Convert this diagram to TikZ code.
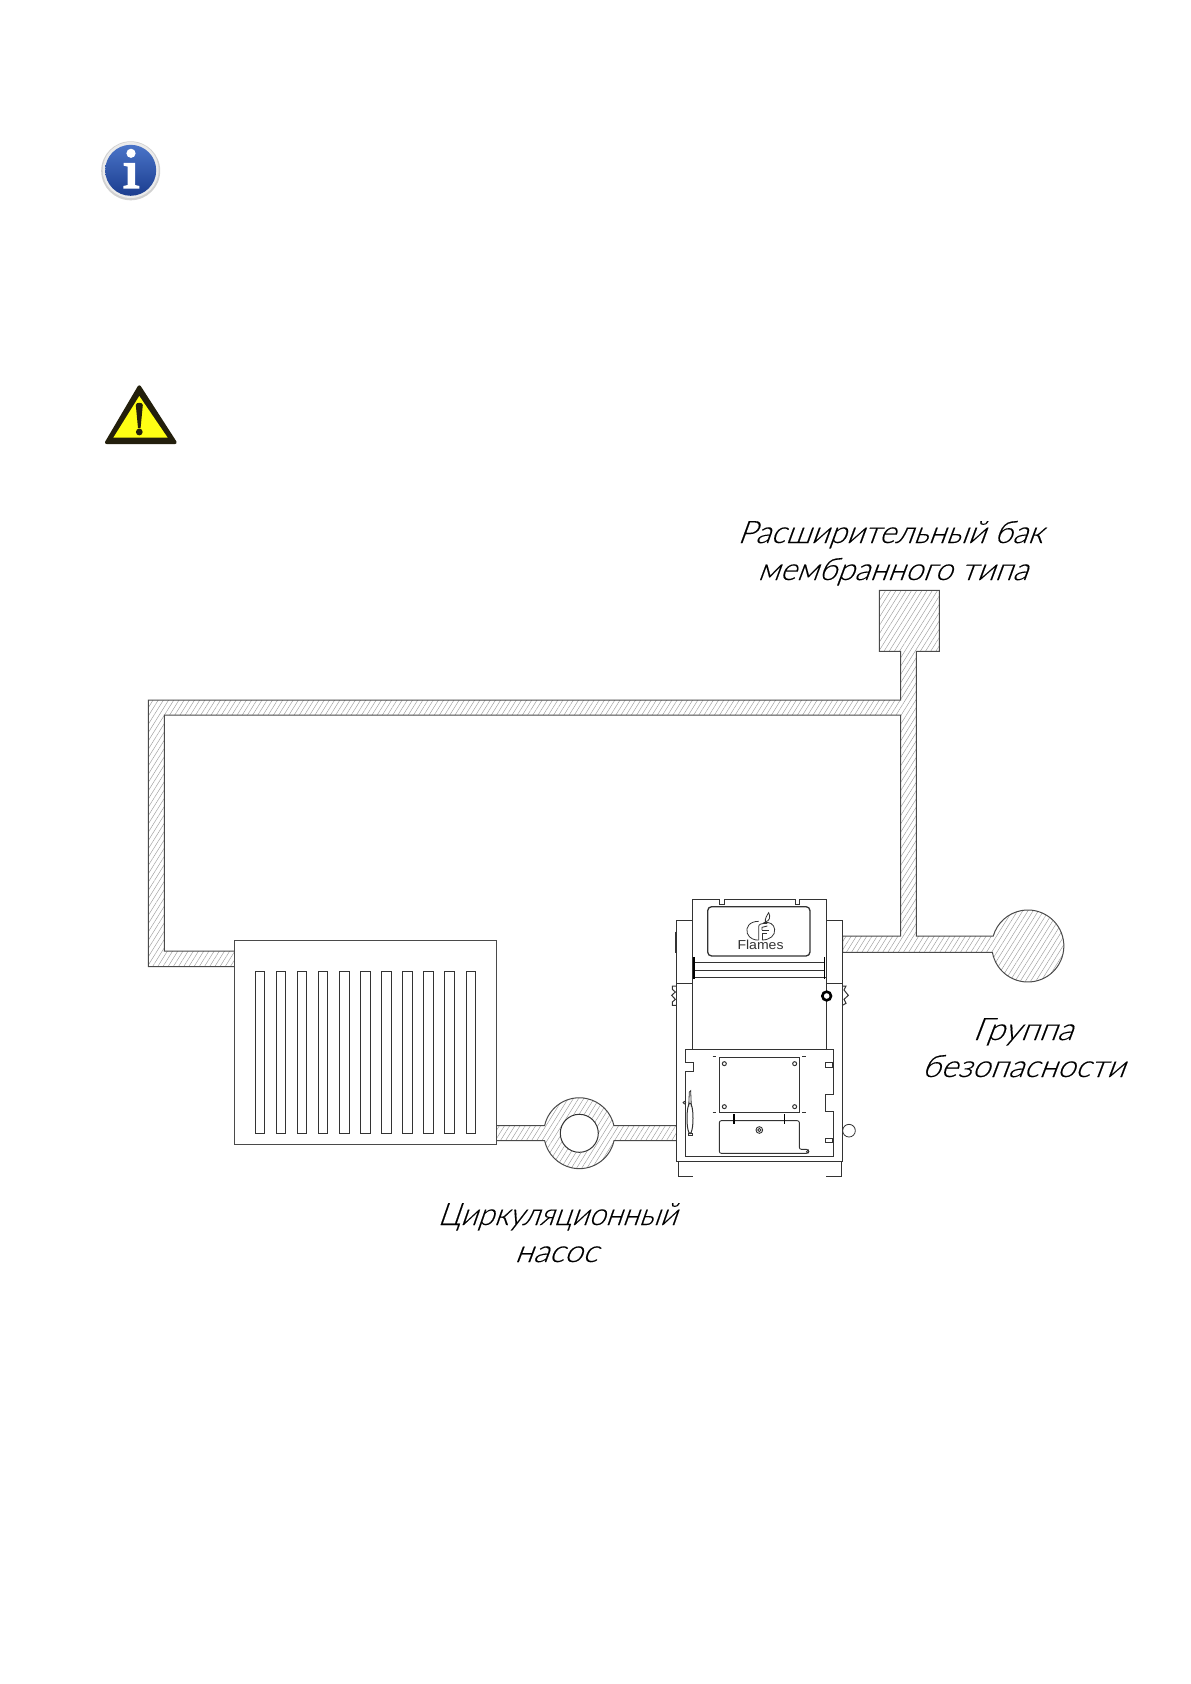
\documentclass[tikz,border=0pt]{standalone}
\usepackage{graphicx}
\usepackage{fontspec}
\usetikzlibrary{patterns.meta}
\newfontfamily\gostfont[FakeSlant=0.36,FakeBold=0.35]{Lato Light}
\newfontfamily\logofont{Liberation Sans}
\newcommand{\fitw}[2]{\resizebox{#1pt}{\height}{#2}}
\definecolor{pipeline}{HTML}{4A4A4A}
\definecolor{hatchc}{HTML}{9C9C9C}
\definecolor{inkc}{HTML}{333333}
\definecolor{infotop}{HTML}{4A74C8}
\definecolor{infobot}{HTML}{1B3D8F}
\definecolor{warnk}{HTML}{231F0C}
\definecolor{warny}{HTML}{FFFF14}
\tikzset{
  pipe/.style={draw=pipeline,line width=1pt,line join=miter,pattern={Lines[angle=58,distance=4.4pt,line width=0.45pt]},pattern color=hatchc},
  thinline/.style={draw=inkc,line width=0.8pt},
  boilerline/.style={draw=inkc,line width=0.9pt,fill=white},
  label/.style={anchor=base west,inner sep=0pt,outer sep=0pt,text=black,font=\gostfont\fontsize{31}{31}\selectfont},
  slot/.style={draw=inkc,line width=0.9pt,fill=white},
}
\begin{document}
\begin{tikzpicture}[x=1pt,y=-1pt]
\useasboundingbox[fill=white] (0,0) rectangle (1191,1684);

% info icon
\fill[black!18] (130.7,170.8) circle[radius=29.5];
\fill[white!92!black] (130.7,170) circle[radius=28];
\shade[top color=infotop,bottom color=infobot] (130.7,170.3) circle[radius=25.5];
\fill[white] (131,153.3) circle[radius=4.6];
\fill[white] (123.5,162.8) -- (135,162.8) -- (135,185) -- (139.4,186) -- (139.4,188.6) -- (123.3,188.6) -- (123.3,186) -- (127.7,185) -- (127.7,166.6) -- (123.5,165.6) -- cycle;

% warning icon
\fill[warnk,draw=warnk,line width=3.4pt,line join=round] (139.3,387) -- (175,442.4) -- (106.7,442.4) -- cycle;
\fill[warny] (139.3,396) -- (167.7,437.7) -- (113.3,437.7) -- cycle;
\fill[warnk] (135.8,405) .. controls (136,402) and (142.6,402) .. (142.8,405) -- (140.6,428) -- (138,428) -- cycle;
\fill[warnk] (139.3,432) circle[radius=3.4];

% upper pipe network with tank and safety group
\path[pipe] (236,951) -- (164.3,951) -- (164.3,715) -- (900.7,715) -- (900.7,936) -- (842.7,936) -- (842.7,952.3) -- (992.4,952.3)
  arc[start angle=169.9,end angle=-163.9,radius=36]
  -- (916.3,936) -- (916.3,651.3) -- (939.3,651.3) -- (939.3,590.3) -- (879.3,590.3) -- (879.3,651.3) -- (900.7,651.3) -- (900.7,700) -- (148.3,700) -- (148.3,966.7) -- (236,966.7) -- cycle;

% lower pipe with pump
\path[pipe] (495,1125.7) -- (544.6,1125.7) arc[start angle=-167.7,end angle=-12.3,radius=35.5] -- (678,1125.7) -- (678,1140.7) -- (614,1140.7) arc[start angle=12.3,end angle=167.7,radius=35.5] -- (495,1140.7) -- cycle;
\filldraw[fill=white,draw=inkc,line width=1pt] (579.3,1133.3) circle[radius=19];

% radiator
\draw[boilerline,draw=pipeline,line width=1.1pt] (234.7,940.7) rectangle (496.5,1144.3);
\foreach \k in {0,...,10}{
  \draw[slot] ({255.3+21.07*\k},971) rectangle ({264.7+21.07*\k},1133);
}

% boiler (drawn in 3x crop units)
\begin{scope}[shift={(660,880)},x=0.33333pt,y=-0.33333pt]
  % right round part behind side panel
  \draw[thinline,fill=white] (567,752) circle[radius=19];
  % side clamps
  \draw[thinline,line width=1pt,fill=white] (49,318) -- (37,318) -- (37,328) -- (46,336) -- (35,346) -- (46,358) -- (37,366) -- (37,376) -- (49,376);
  \draw[thinline,line width=1pt,fill=white] (547,318) -- (558,318) -- (552,330) -- (565,346) -- (552,358) -- (558,370) -- (547,376);
  % side housing
  \draw[boilerline] (49,122) -- (547,122) -- (547,845) -- (49,845) -- cycle;
  \draw[draw=inkc,line width=1pt] (45,155) -- (45,220);
  % feet
  \draw[draw=inkc,line width=1pt] (55,845) -- (55,888) -- (100,888);
  \draw[draw=inkc,line width=1pt] (545,845) -- (545,888) -- (497,888);
  % front body
  \draw[boilerline] (97,292) -- (97,58) -- (178,58) -- (178,72) -- (192,72) -- (192,58) -- (405,58) -- (405,72) -- (418,72) -- (418,58) -- (498,58) -- (498,292) -- cycle;
  \draw[draw=inkc,line width=0.9pt] (49,310) -- (97,310);
  \draw[draw=inkc,line width=0.9pt] (498,310) -- (547,310);
  \draw[draw=inkc,line width=0.9pt] (97,292) -- (97,507);
  \draw[draw=inkc,line width=0.9pt] (498,292) -- (498,507);
  % glass
  \draw[draw=inkc,line width=1.3pt,rounded corners=4pt] (143,80) rectangle (450,228);
  % hinge bars
  \draw[draw=inkc,line width=0.8pt] (104,248) -- (492,248);
  \draw[draw=inkc,line width=0.8pt] (104,272) -- (492,272);
  \draw[draw=black,line width=1.3pt] (102,232) -- (102,298);
  \draw[draw=black,line width=1.3pt] (494,232) -- (494,298);
  % logo
  \draw[draw=inkc,line width=0.8pt] (296,124) .. controls (268,124) and (256,142) .. (262,160) .. controls (268,176) and (284,181) .. (296,180);
  \draw[draw=inkc,line width=0.8pt] (306,180) .. controls (330,180) and (346,166) .. (344,148) .. controls (342,132) and (328,124) .. (310,128);
  \draw[draw=inkc,line width=0.8pt] (296,180) -- (296,140) .. controls (296,132) and (304,130) .. (322,130);
  \draw[draw=inkc,line width=0.8pt] (306,180) -- (306,160) -- (322,160);
  \draw[draw=inkc,line width=0.8pt] (306,150) -- (326,150);
  \draw[draw=inkc,line width=0.8pt] (306,150) -- (306,142) -- (322,138);
  \draw[draw=inkc,line width=0.8pt] (316,126) .. controls (314,116) and (322,104) .. (326,98) .. controls (332,110) and (330,122) .. (316,126) -- cycle;
  \node[anchor=base west,inner sep=0pt,font=\logofont\fontsize{13}{13}\selectfont,text=inkc] (flames) at (232,209) {\fitw{46}{Flames}};
  % knob
  \draw[draw=black,line width=2.6pt,fill=white] (500,348) circle[radius=13];
  % lower door panel
  \draw[boilerline] (77,507) -- (520,507) -- (520,642) -- (497,642) -- (497,695) -- (520,695) -- (520,830) -- (77,830) -- (77,575) -- (100,575) -- (100,548) -- (77,548) -- cycle;
  \draw[thinline] (497,548) rectangle (517,562);
  \draw[thinline] (497,775) rectangle (517,788);
  % upper plate
  \draw[draw=inkc,line width=0.9pt] (178,533) rectangle (418,698);
  \foreach \hx/\hy in {193/551,404/551,193/680,404/680}{
    \draw[draw=inkc,line width=1pt] (\hx,\hy) circle[radius=6];
  }
  \foreach \hx/\hy in {163/530,432/530,163/698,432/698}{
    \draw[draw=inkc,line width=1.4pt] (\hx-5,\hy) -- (\hx+5,\hy);
  }
  % lower plate
  \draw[draw=inkc,line width=0.9pt,rounded corners=2pt] (178,722) -- (418,722) -- (418,808) -- (445,808) -- (445,820) -- (178,820) -- cycle;
  \draw[draw=black,line width=1.3pt] (222,703) -- (222,733);
  \draw[draw=black,line width=1.3pt] (373,703) -- (373,733);
  \draw[draw=inkc,line width=0.9pt] (298,750) circle[radius=10];
  \draw[draw=inkc,line width=0.9pt] (298,750) circle[radius=5];
  \draw[draw=inkc,line width=0.7pt] (443,815) circle[radius=4];
  % handle
  \draw[thinline] (86,680) -- (88,636) -- (92,632) -- (94,680);
  \draw[draw=inkc,line width=1pt] (90,715) ellipse[x radius=9,y radius=46];
  \draw[thinline] (73,668) circle[radius=4];
  \draw[thinline] (84,761) rectangle (98,766);
\end{scope}

% labels
\node[label] (l1) at (737.5,543) {\fitw{305}{Расширительный бак}};
\node[label] (l2) at (757.5,580) {\fitw{270}{мембранного типа}};
\node[label] (l3) at (972.5,1040) {\fitw{100}{Группа}};
\node[label] (l4) at (921.5,1077) {\fitw{203}{безопасности}};
\node[label] (l5) at (437.5,1225) {\fitw{239}{Циркуляционный}};
\node[label] (l6) at (514.5,1262) {\fitw{83}{насос}};
\end{tikzpicture}
\end{document}
